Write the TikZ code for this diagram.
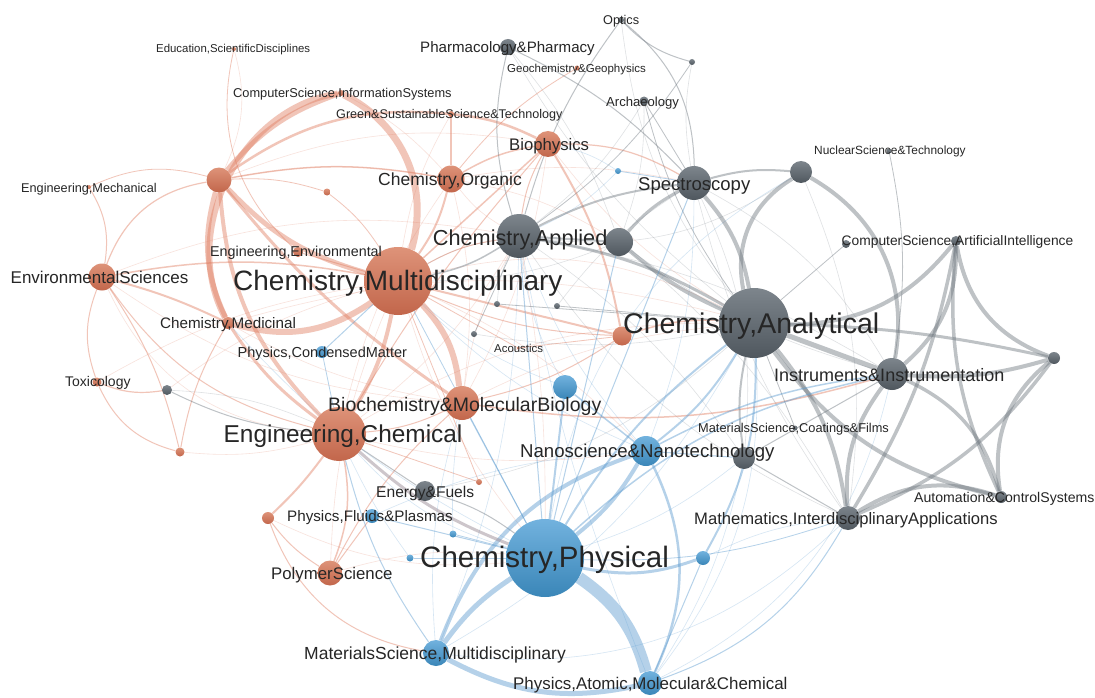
\documentclass[tikz,border=0pt]{standalone}
\usepackage{fontspec}
\setmainfont{Liberation Sans}
\pgfdeclarelayer{bg}
\pgfsetlayers{bg,main}
\definecolor{nOt}{HTML}{DE9379}
\definecolor{nOb}{HTML}{C2664B}
\definecolor{nGt}{HTML}{7D858C}
\definecolor{nGb}{HTML}{4F575E}
\definecolor{nBt}{HTML}{72B2DE}
\definecolor{nBb}{HTML}{3A86B8}
\definecolor{eO}{HTML}{E07F63}
\definecolor{eG}{HTML}{6F7880}
\definecolor{eB}{HTML}{5B9BD0}
\definecolor{eM}{HTML}{9C8E98}
\definecolor{txt}{HTML}{262626}
\newcommand\lfs[1]{\fontsize{#1}{#1}\selectfont}
\begin{document}
\begin{tikzpicture}[x=1pt,y=-1pt,
  nO/.style={circle,inner sep=0pt,draw=none,top color=nOt,bottom color=nOb},
  nG/.style={circle,inner sep=0pt,draw=none,top color=nGt,bottom color=nGb},
  nB/.style={circle,inner sep=0pt,draw=none,top color=nBt,bottom color=nBb},
  oE/.style={draw=eO,draw opacity=0.45,line width=#1pt},oE/.default=0.7,
  gE/.style={draw=eG,draw opacity=0.45,line width=#1pt},gE/.default=0.7,
  bE/.style={draw=eB,draw opacity=0.45,line width=#1pt},bE/.default=0.7,
  mE/.style={draw=eM,draw opacity=0.5,line width=#1pt},mE/.default=0.7,
  fO/.style={draw=eO,draw opacity=0.22,line width=0.6pt},
  fG/.style={draw=eG,draw opacity=0.22,line width=0.6pt},
  fB/.style={draw=eB,draw opacity=0.25,line width=0.6pt},
  lab/.style={inner sep=0pt,anchor=base west,text=txt}]
\useasboundingbox (0,0) rectangle (1095,698);
% ---------------- nodes ----------------
% orange
\node[nO,minimum size=68pt] (cm) at (398,281) {};
\node[nO,minimum size=54pt] (ec) at (339,434) {};
\node[nO,minimum size=34pt] (bio) at (462,403) {};
\node[nO,minimum size=27pt] (co) at (451,179) {};
\node[nO,minimum size=26pt] (bp) at (548,144) {};
\node[nO,minimum size=27pt] (es) at (102,277) {};
\node[nO,minimum size=12pt] (cmed) at (228,323) {};
\node[nO,minimum size=25pt] (oa) at (219,180) {};
\node[nO,minimum size=6pt] (csis) at (341,93) {};
\node[nO,minimum size=6pt] (gst) at (451,114) {};
\node[nO,minimum size=4pt] (edu) at (234,49) {};
\node[nO,minimum size=4pt] (emech) at (89,187) {};
\node[nO,minimum size=10pt] (eenv) at (298,252) {};
\node[nO,minimum size=7pt] (os1) at (327,192) {};
\node[nO,minimum size=9pt] (tox) at (97,382) {};
\node[nO,minimum size=9pt] (os2) at (180,452) {};
\node[nO,minimum size=12pt] (os3) at (268,518) {};
\node[nO,minimum size=25pt] (ps) at (330,573) {};
\node[nO,minimum size=19pt] (oc) at (622,336) {};
\node[nO,minimum size=6pt] (os4) at (479,482) {};
\node[nO,minimum size=5pt] (geo) at (577,68) {};
\node[nO,minimum size=3pt] (ac) at (518,348) {};
% grey
\node[nG,minimum size=70pt] (ca) at (754,323) {};
\node[nG,minimum size=44pt] (capp) at (519,236) {};
\node[nG,minimum size=34pt] (sp) at (694,183) {};
\node[nG,minimum size=28pt] (ga) at (619,242) {};
\node[nG,minimum size=22pt] (ns) at (801,172) {};
\node[nG,minimum size=5pt] (nsd) at (889,151) {};
\node[nG,minimum size=32pt] (ins) at (892,374) {};
\node[nG,minimum size=24pt] (math) at (848,518) {};
\node[nG,minimum size=12pt] (auto) at (1001,497) {};
\node[nG,minimum size=12pt] (gr) at (1054,358) {};
\node[nG,minimum size=10pt] (ai) at (956,241) {};
\node[nG,minimum size=8pt] (ai2) at (846,244) {};
\node[nG,minimum size=5pt] (mcf) at (795,428) {};
\node[nG,minimum size=22pt] (gn) at (744,458) {};
\node[nG,minimum size=16pt] (ph) at (508,47) {};
\node[nG,minimum size=6pt] (opt) at (621,20) {};
\node[nG,minimum size=6pt] (gs1) at (692,62) {};
\node[nG,minimum size=9pt] (arch) at (644,101) {};
\node[nG,minimum size=20pt] (ef) at (425,491) {};
\node[nG,minimum size=10pt] (gt) at (167,390) {};
\node[nG,minimum size=6pt] (gd1) at (497,304) {};
\node[nG,minimum size=6pt] (gd2) at (557,306) {};
\node[nG,minimum size=6pt] (gd3) at (474,334) {};
% blue
\node[nB,minimum size=78pt] (cp) at (545,558) {};
\node[nB,minimum size=30pt] (nano) at (646,451) {};
\node[nB,minimum size=26pt] (msm) at (436,653) {};
\node[nB,minimum size=24pt] (pam) at (650,683) {};
\node[nB,minimum size=24pt] (bb1) at (565,387) {};
\node[nB,minimum size=14pt] (bb2) at (703,558) {};
\node[nB,minimum size=14pt] (pfp) at (372,516) {};
\node[nB,minimum size=12pt] (pcm) at (322,352) {};
\node[nB,minimum size=7pt] (bs1) at (453,534) {};
\node[nB,minimum size=7pt] (bs2) at (410,558) {};
\node[nB,minimum size=6pt] (bs3) at (618,171) {};
% ---------------- edges ----------------
\begin{pgfonlayer}{bg}
\fill[white] (0,0) rectangle (1095,698);
% faint web
\foreach \a/\b/\c in {cm/ca/20,cm/cp/-10,cm/nano/10,ec/ca/15,bio/ca/10,co/sp/10,co/capp/-10,capp/cp/5,capp/ec/10,capp/bio/-10,es/capp/15,oa/co/10,cmed/bio/-10,es/bio/-15,tox/cm/10,gt/cm/10,cm/ps/-10,co/bio/10,oa/bp/15,csis/co/10,edu/oa/20,ps/cp/10,os3/cp/-15,ec/nano/-10,cmed/ca/15,es/ec/-30,os2/ec/-10,co/ec/-10,bp/bio/10,gst/cm/-10,bp/ca/-10,co/ga/10}
  {\draw[fO,bend left=\c] (\a) to (\b);}
\foreach \a/\b/\c in {capp/ins/10,sp/ins/15,ga/ins/-10,ph/ca/-10,ph/ga/10,opt/ca/-15,arch/capp/10,capp/math/-15,sp/math/-10,ga/math/10,ef/ca/-15,gt/ec/10,gd1/capp/10,gd2/sp/10,gd3/ca/-10,capp/gn/10,sp/gn/15,ns/capp/20,ns/math/15,arch/ga/10,gs1/sp/-10,capp/cm/-10,ga/cm/10}
  {\draw[fG,bend left=\c] (\a) to (\b);}
\foreach \a/\b/\c in {cp/ns/25,nano/capp/10,nano/sp/-10,bb1/capp/10,msm/ca/-15,pam/ca/-20,pam/ins/-25,msm/bio/10,pfp/nano/10,cp/cmed/10,bs3/capp/10,bs3/bp/-10,bb1/cm/10,msm/math/-25,nano/cm/10,cp/ec/15,pam/gn/-10,bb2/math/10,cp/gn/-10,msm/capp/-10,pam/capp/5,bs1/bio/5,bs2/ec/5}
  {\draw[fB,bend left=\c] (\a) to (\b);}
% orange edges
\draw[oE=7,bend left=40] (csis) to (cm);
\draw[oE=6,bend right=55] (csis) to (cmed);
\draw[oE=5,bend left=15] (oa) to (csis);
\draw[oE=5,bend right=20] (oa) to (cmed);
\draw[oE=5,bend right=15] (oa) to (cm);
\draw[oE=3,bend right=8] (oa) to (bio);
\draw[oE=6,bend right=25] (cmed) to (cm);
\draw[oE=6,bend left=18] (cm) to (bio);
\draw[oE=4,bend left=10] (cm) to (ec);
\draw[oE=4,bend right=20] (oa) to (ec);
\draw[oE=3,bend right=10] (cmed) to (ec);
\draw[oE=2.5,bend left=20] (oa) to (gst);
\draw[oE=2.5,bend left=10] (gst) to (bp);
\draw[oE=2] (gst) to (co);
\draw[oE=2,bend left=5] (es) to (cmed);
\draw[oE=1.2,bend left=30] (es) to (oa);
\draw[oE=1.5,bend left=10] (es) to (cm);
\draw[oE=1,bend right=20] (es) to (ec);
\draw[oE=1,bend left=20] (emech) to (es);
\draw[oE=0.8,bend left=20] (emech) to (oa);
\draw[oE=1,bend right=20] (es) to (tox);
\draw[oE=1.2,bend right=15] (tox) to (gt);
\draw[oE=1,bend right=25] (tox) to (os2);
\draw[oE=1,bend left=10] (os2) to (cmed);
\draw[oE=1,bend right=10] (os2) to (es);
\draw[oE=0.8,bend right=30] (edu) to (eenv);
\draw[oE=2,bend left=10] (co) to (cm);
\draw[oE=1.5,bend right=10] (co) to (oa);
\draw[oE=1.5] (bp) to (cm);
\draw[oE=1.5,bend right=10] (bp) to (co);
\draw[oE=2,bend left=10] (bp) to (oc);
\draw[oE=1.2,bend left=15] (bp) to (sp);
\draw[oE=1,bend right=10] (bp) to (capp);
\draw[oE=1,bend right=5] (bp) to (ec);
\draw[oE=2] (oc) to (cm);
\draw[oE=1.5,bend left=10] (oc) to (ca);
\draw[oE=1,bend left=10] (oc) to (bio);
\draw[oE=2,bend left=5] (ec) to (os3);
\draw[oE=1.5,bend left=15] (ec) to (ps);
\draw[oE=1,bend right=10] (os3) to (ps);
\draw[oE=1,bend right=30] (os3) to (msm);
\draw[oE=1,bend left=10] (ps) to (bio);
\draw[oE=1] (ps) to (pfp);
\draw[oE=1,bend right=10] (ec) to (bio);
\draw[oE=1.5,bend right=12] (bio) to (ins);
\draw[oE=1,bend left=10] (cm) to (capp);
\draw[oE=1,bend right=10] (cm) to (oc);
\draw[oE=0.8,bend left=10] (os1) to (cm);
\draw[oE=0.8,bend right=10] (os1) to (oa);
\draw[oE=0.8] (os4) to (ec);
\draw[oE=0.8] (os4) to (cm);
\draw[oE=0.8,bend right=10] (geo) to (co);
\draw[oE=1] (eenv) to (cm);
\draw[oE=0.8] (ac) to (cm);
\draw[oE=0.8] (ac) to (oc);
% grey edges
\draw[gE=4,bend left=15] (sp) to (ca);
\draw[gE=4,bend right=35] (ns) to (ca);
\draw[gE=4,bend left=35] (ns) to (ins);
\draw[gE=2,bend right=10] (ns) to (sp);
\draw[gE=4,bend right=8] (ga) to (ca);
\draw[gE=3,bend left=10] (capp) to (ca);
\draw[gE=4,bend right=25] (ca) to (ai);
\draw[gE=5] (ca) to (ins);
\draw[gE=4,bend left=15] (ca) to (math);
\draw[gE=4,bend right=20] (ca) to (auto);
\draw[gE=3,bend left=5] (ca) to (gr);
\draw[gE=4,bend right=30] (ai) to (gr);
\draw[gE=4,bend right=30] (gr) to (auto);
\draw[gE=4,bend right=25] (auto) to (math);
\draw[gE=4,bend left=20] (math) to (ins);
\draw[gE=4,bend right=25] (ins) to (ai);
\draw[gE=3.5,bend right=10] (math) to (ai);
\draw[gE=3.5,bend right=15] (math) to (gr);
\draw[gE=3.5,bend left=25] (ins) to (auto);
\draw[gE=4,bend right=10] (ins) to (gr);
\draw[gE=3.5,bend right=15] (ai) to (auto);
\draw[gE=2,bend left=10] (capp) to (sp);
\draw[gE=2] (capp) to (ga);
\draw[gE=3,bend right=10] (sp) to (ga);
\draw[gE=1,bend right=15] (ph) to (capp);
\draw[gE=1,bend left=10] (ph) to (sp);
\draw[gE=1,bend left=25] (opt) to (sp);
\draw[gE=1,bend right=15] (opt) to (gs1);
\draw[gE=1,bend right=10] (opt) to (capp);
\draw[gE=0.8,bend left=10] (gs1) to (capp);
\draw[gE=0.8] (arch) to (sp);
\draw[gE=0.8,bend right=10] (arch) to (ca);
\draw[gE=2,bend left=10] (gn) to (ca);
\draw[gE=1] (gn) to (ins);
\draw[gE=1] (gn) to (math);
\draw[gE=1,bend left=10] (ef) to (cp);
\draw[gE=1] (ef) to (ec);
\draw[gE=1,bend right=10] (gt) to (ec);
\draw[gE=0.8] (gd1) to (ca);
\draw[gE=0.8] (gd2) to (ca);
\draw[gE=0.8] (gd3) to (capp);
\draw[gE=0.8] (ai2) to (ca);
\draw[gE=0.8,bend left=10] (nsd) to (ins);
\draw[gE=0.8] (mcf) to (ca);
\draw[gE=1.5,bend left=10] (capp) to (cm);
% blue edges
\draw[bE=12,bend left=20] (cp) to (pam);
\draw[bE=5,bend right=10] (cp) to (msm);
\draw[bE=5,bend right=20] (msm) to (pam);
\draw[bE=4,bend left=25] (msm) to (nano);
\draw[bE=4,bend right=10] (cp) to (nano);
\draw[bE=2.5,bend left=25] (nano) to (pam);
\draw[bE=3,bend right=15] (cp) to (bb2);
\draw[bE=2,bend right=15] (bb2) to (ca);
\draw[bE=2,bend left=10] (cp) to (ca);
\draw[bE=1.5,bend left=15] (cp) to (ins);
\draw[bE=2] (cp) to (bb1);
\draw[bE=1.5] (nano) to (bb1);
\draw[bE=2,bend right=10] (nano) to (ca);
\draw[bE=1] (cp) to (sp);
\draw[bE=1] (cp) to (ga);
\draw[bE=1] (pfp) to (cp);
\draw[bE=1] (pcm) to (cm);
\draw[bE=0.8] (pcm) to (ec);
\draw[bE=0.8] (bs1) to (cp);
\draw[bE=0.8] (bs2) to (cp);
\draw[bE=0.8] (bs3) to (sp);
\draw[bE=1,bend right=20] (pam) to (math);
\draw[bE=1] (pam) to (bb2);
\draw[bE=1,bend left=10] (msm) to (ec);
\draw[bE=1] (nano) to (gn);
\draw[bE=1.5,bend left=10] (nano) to (ins);
\draw[bE=0.8,bend right=10] (cp) to (math);
\draw[bE=1] (cp) to (capp);
\draw[bE=1] (cp) to (bio);
\draw[bE=0.8] (cp) to (cm);
\draw[mE=3,bend right=10] (ec) to (cp);
\end{pgfonlayer}
% ---------------- labels ----------------
\node[lab,font=\lfs{28}] (Lcm) at (233,290) {Chemistry,Multidisciplinary};
\node[lab,font=\lfs{28.5}] (Lca) at (623,333.5) {Chemistry,Analytical};
\node[lab,font=\lfs{29.5}] (Lcp) at (420,567) {Chemistry,Physical};
\node[lab,font=\lfs{24.4}] (Lec) at (223.5,442) {Engineering,Chemical};
\node[lab,font=\lfs{21.7}] (Lcapp) at (432.7,245) {Chemistry,Applied};
\node[lab,font=\lfs{19.5}] (Lbio) at (328,411) {Biochemistry\&MolecularBiology};
\node[lab,font=\lfs{18.5}] (Lsp) at (638,190) {Spectroscopy};
\node[lab,font=\lfs{18.6}] (Lnano) at (520,457.4) {Nanoscience\&Nanotechnology};
\node[lab,font=\lfs{18}] (Lins) at (774,381.5) {Instruments\&Instrumentation};
\node[lab,font=\lfs{17}] (Les) at (10.5,283.4) {EnvironmentalSciences};
\node[lab,font=\lfs{17.5}] (Lco) at (378,185.6) {Chemistry,Organic};
\node[lab,font=\lfs{16.7}] (Lbp) at (509,150) {Biophysics};
\node[lab,font=\lfs{17.5}] (Lmsm) at (304,659.6) {MaterialsScience,Multidisciplinary};
\node[lab,font=\lfs{16.9}] (Lpam) at (513,689.4) {Physics,Atomic,Molecular\&Chemical};
\node[lab,font=\lfs{16.6}] (Lmath) at (694,524) {Mathematics,InterdisciplinaryApplications};
\node[lab,font=\lfs{16.8}] (Lps) at (271,579.3) {PolymerScience};
\node[lab,font=\lfs{15.1}] (Lph) at (420,53) {Pharmacology\&Pharmacy};
\node[lab,font=\lfs{15.6}] (Lef) at (376,497.3) {Energy\&Fuels};
\node[lab,font=\lfs{15.2}] (Lpfp) at (287,521) {Physics,Fluids\&Plasmas};
\node[lab,font=\lfs{15.2}] (Lcmed) at (160,328.8) {Chemistry,Medicinal};
\node[lab,font=\lfs{14.3}] (Leenv) at (210,256.8) {Engineering,Environmental};
\node[lab,font=\lfs{14.5}] (Lpcm) at (237.5,357.5) {Physics,CondensedMatter};
\node[lab,font=\lfs{14}] (Ltox) at (65,386.7) {Toxicology};
\node[lab,font=\lfs{14.1}] (Lauto) at (914,502.3) {Automation\&ControlSystems};
\node[lab,font=\lfs{13.8}] (Lai) at (841.5,245) {ComputerScience,ArtificialIntelligence};
\node[lab,font=\lfs{13.1}] (Larch) at (606,106.4) {Archaeology};
\node[lab,font=\lfs{12.7}] (Lopt) at (603,24.5) {Optics};
\node[lab,font=\lfs{12.8}] (Lmcf) at (698,432.3) {MaterialsScience,Coatings\&Films};
\node[lab,font=\lfs{12.8}] (Lcsis) at (233,97.3) {ComputerScience,InformationSystems};
\node[lab,font=\lfs{12.6}] (Lgst) at (336,118.8) {Green\&SustainableScience\&Technology};
\node[lab,font=\lfs{12.7}] (Lemech) at (21,192.2) {Engineering,Mechanical};
\node[lab,font=\lfs{11.9}] (Lns) at (814,155) {NuclearScience\&Technology};
\node[lab,font=\lfs{11.5}] (Lgeo) at (507,72.4) {Geochemistry\&Geophysics};
\node[lab,font=\lfs{11.4}] (Ledu) at (156,53) {Education,ScientificDisciplines};
\node[lab,font=\lfs{11.4}] (Lac) at (494,352.4) {Acoustics};
\end{tikzpicture}
\end{document}
